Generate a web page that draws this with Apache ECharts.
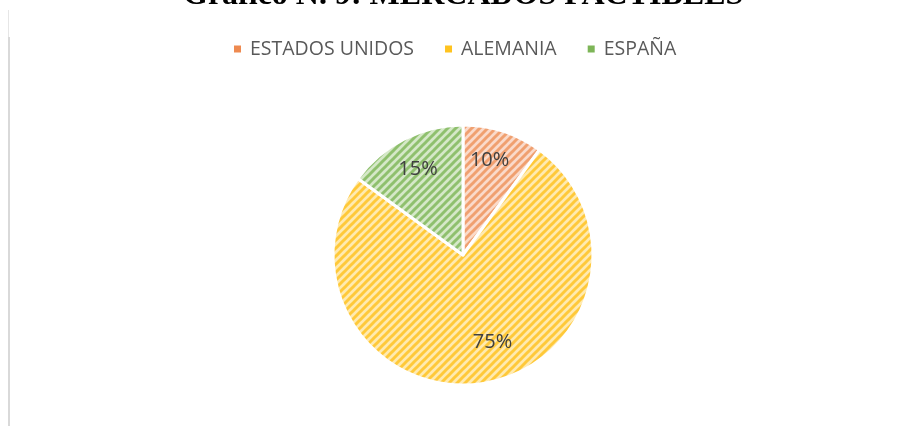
<!DOCTYPE html>
<html><head><meta charset="utf-8">
<script src="https://cdn.jsdelivr.net/npm/echarts@6/dist/echarts.min.js"></script>
<style>html,body{margin:0;padding:0;background:#fff}#c{width:901px;height:430px}</style>
</head><body><div id="c"></div>
<script>
const titleText = "Gráfico N. 9: MERCADOS FACTIBLES";
const categories = ["ESTADOS UNIDOS", "ALEMANIA", "ESPAÑA"];
const values = [10, 75, 15];
const mainColors = ["#F0A070", "#FFC93A", "#8FC06E"];
const lightColors = ["#FADACA", "#FFEAB0", "#D5E8C8"];
const legendColors = ["#EE8A50", "#FFC31F", "#7DB557"];
const labelOffsets = [[-4, -1], [14, -10], [0, 3]];

function pattern(base, stripe) {
  const N = 8;
  const c = document.createElement('canvas');
  c.width = N; c.height = N;
  const g = c.getContext('2d');
  g.fillStyle = base; g.fillRect(0, 0, N, N);
  g.strokeStyle = stripe; g.lineWidth = 3;
  for (let k = -1; k <= 1; k++) {
    g.beginPath();
    g.moveTo(-2 + k * N, N + 2);
    g.lineTo(N + 2 + k * N, -2);
    g.stroke();
  }
  return { image: c, repeat: 'repeat' };
}

const chart = echarts.init(document.getElementById('c'), null, { renderer: 'canvas' });
const pieData = categories.map((n, i) => ({
  name: n, value: values[i],
  itemStyle: { color: pattern(lightColors[i], mainColors[i]) }
}));
const labelData = categories.map((n, i) => ({
  name: n, value: values[i], label: { offset: labelOffsets[i] }
}));

chart.setOption({
  animation: false,
  title: {
    text: titleText, left: 178, top: -25,
    textStyle: { fontFamily: 'Liberation Serif', fontWeight: 'bold', fontSize: 32, color: '#000' }
  },
  legend: {
    top: 34, left: 227, itemWidth: 9, itemHeight: 9, itemGap: 29,
    icon: 'rect',
    textStyle: { fontFamily: 'Open Sans', fontSize: 19.5, color: '#595959', padding: [0, 0, 0, 3] },
    data: categories.map((n, i) => ({ name: n, itemStyle: { color: legendColors[i] } }))
  },
  graphic: [
    { type: 'rect', shape: { x: 8, y: 10, width: 1, height: 27 }, style: { fill: '#e6e6e6' } },
    { type: 'rect', shape: { x: 8, y: 37, width: 2, height: 389 }, style: { fill: '#d9d9d9' } }
  ],
  series: [
    {
      type: 'pie', center: [463, 255], radius: 130, startAngle: 90, clockwise: true,
      silent: true, label: { show: false }, labelLine: { show: false },
      itemStyle: { borderColor: '#fff', borderWidth: 3 },
      data: pieData
    },
    {
      type: 'pie', center: [463, 255], radius: [62, 130], startAngle: 90, clockwise: true,
      silent: true, legendHoverLink: false,
      itemStyle: { color: 'rgba(0,0,0,0)', borderWidth: 0 },
      label: {
        show: true, position: 'inside', formatter: '{d}%',
        fontFamily: 'Open Sans', fontSize: 20, color: '#404040'
      },
      labelLine: { show: false },
      data: labelData
    }
  ]
});
</script></body></html>
